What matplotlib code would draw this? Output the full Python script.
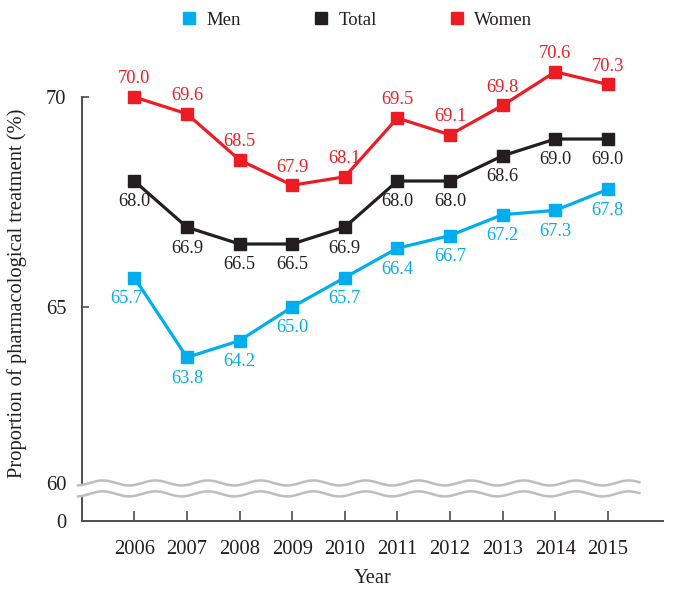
import matplotlib
matplotlib.use("Agg")
import matplotlib.pyplot as plt
from matplotlib.lines import Line2D
import numpy as np

plt.rcParams['font.family'] = ['Liberation Serif', 'DejaVu Serif']

years = [2006, 2007, 2008, 2009, 2010, 2011, 2012, 2013, 2014, 2015]
men = [65.7, 63.8, 64.2, 65.0, 65.7, 66.4, 66.7, 67.2, 67.3, 67.8]
total = [68.0, 66.9, 66.5, 66.5, 66.9, 68.0, 68.0, 68.6, 69.0, 69.0]
women = [70.0, 69.6, 68.5, 67.9, 68.1, 69.5, 69.1, 69.8, 70.6, 70.3]

c_men = '#00aeef'
c_total = '#231f20'
c_women = '#ed1c24'
txt = '#231f20'
axcol = '#4d4d4d'

# broken axis: bottom of the axes stands for 0, the mark "60" sits a bit above it
y_zero = 59.905
y_sixty = 60.81

fig = plt.figure(figsize=(6.76, 6.0), dpi=100)
ax = fig.add_axes([0.1209, 0.1317, 0.8599, 0.8116])
ax.set_xlim(2005.0, 2016.05)
ax.set_ylim(y_zero, 71.5)

series = [(men, c_men, 'Men', -15), (total, c_total, 'Total', -15), (women, c_women, 'Women', 13)]
for vals, col, name, dy in series:
    ax.plot(years, vals, color=col, lw=2.3, marker='s', ms=8.5, zorder=4, clip_on=False)
    for i, (x, v) in enumerate(zip(years, vals)):
        dx = -6 if (name == 'Men' and i == 0) else 0
        ax.annotate(f"{v:.1f}", (x, v), xytext=(dx, dy), textcoords='offset points',
                    ha='center', va='center', fontsize=13.2, color=col)

# wavy break marks
xw = np.linspace(2004.93, 2015.6, 600)
wave = 0.06 * np.cos(2 * np.pi * (xw - 2005.4))
ax.fill_between(xw, 60.55 + wave, 60.81 + wave, color='white', zorder=3, clip_on=False)
ax.plot(xw, 60.81 + wave, color='#bdbdbd', lw=1.8, zorder=3.5, clip_on=False)
ax.plot(xw, 60.55 + wave, color='#bdbdbd', lw=1.8, zorder=3.5, clip_on=False)

for s in ['top', 'right']:
    ax.spines[s].set_visible(False)
for s in ['left', 'bottom']:
    ax.spines[s].set_color(axcol)
    ax.spines[s].set_linewidth(1.4)
ax.spines['left'].set_bounds(y_zero, 70)

ax.set_xticks(years)
ax.set_xticklabels([str(y) for y in years])
ax.tick_params(axis='x', direction='in', length=7, width=1.2, color=axcol, pad=14,
               labelsize=14.8, labelcolor=txt)
ax.set_yticks([y_zero, y_sixty, 65, 70])
ax.set_yticklabels(['0', '60', '65', '70'])
ax.tick_params(axis='y', direction='in', length=5, width=1.2, color=axcol, pad=11,
               labelsize=14.8, labelcolor=txt)
for t in ax.yaxis.get_major_ticks()[:2]:
    t.tick1line.set_visible(False)

ax.set_xlabel('Year', fontsize=14.8, color=txt, labelpad=7)
ax.set_ylabel('Proportion of pharmacological treatment (%)', fontsize=14.8, color=txt)
ax.yaxis.set_label_coords(-0.094, 0.468)

handles = [Line2D([], [], ls='none', marker='s', ms=9, color=c) for c in (c_men, c_total, c_women)]
fig.legend(handles, ['Men', 'Total', 'Women'], loc='center', bbox_to_anchor=(357 / 676, 1 - 20 / 600),
           ncol=3, frameon=False, fontsize=13.5, handlelength=0.8, handletextpad=0.5,
           columnspacing=3.9, labelcolor=txt)

fig.savefig('out.png', dpi=100)
